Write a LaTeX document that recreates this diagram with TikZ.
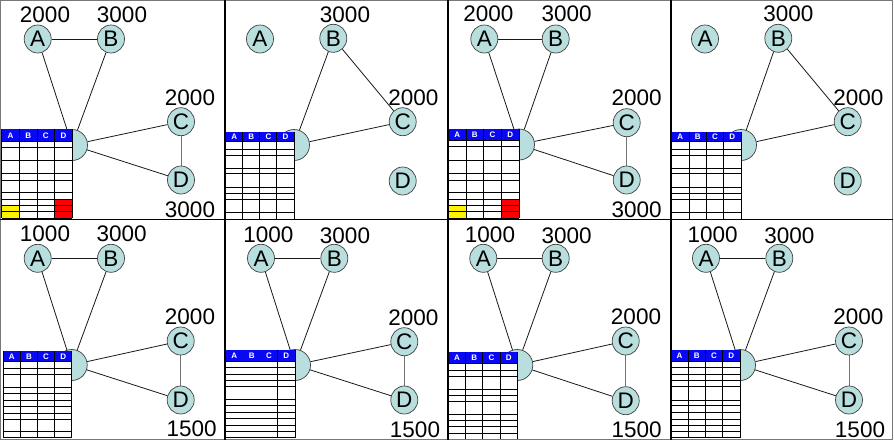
\documentclass[tikz,border=0pt]{standalone}
\usepackage{fontspec}
\setmainfont{Liberation Sans}
\usetikzlibrary{shapes.geometric}
\definecolor{nodefill}{RGB}{184,222,222}
\definecolor{hdrblue}{RGB}{8,8,245}
\definecolor{framegray}{RGB}{120,120,120}
\pgfdeclarelayer{background}
\pgfdeclarelayer{canvas}
\pgfsetlayers{canvas,background,main}
\tikzset{
  vtx/.style={ellipse, draw=black!75, line width=0.7pt, fill=nodefill, minimum width=27pt, minimum height=28pt, inner sep=0pt, font=\fontsize{22.5}{22.5}\selectfont},
  hub/.style={circle, draw=black!75, line width=0.7pt, fill=nodefill, minimum size=31pt, inner sep=0pt},
  lbl/.style={inner sep=0pt, font=\fontsize{22.5}{22.5}\selectfont},
  edge/.style={draw=black!90, line width=0.8pt},
  edgeg/.style={draw=black!55, line width=1pt},
  grid/.style={draw=black, line width=0.9pt},
  hdrtxt/.style={inner sep=0pt, text=white, font=\fontsize{8}{8}\selectfont\bfseries},
  sep/.style={draw=black, line width=1.3pt},
}
\newcommand\vtxs[9]{%
  \node[vtx] (#1A) at (#2,#3) {A};
  \node[vtx] (#1B) at (#4,#5) {B};
  \node[vtx] (#1C) at (#6,#7) {C};
  \node[vtx] (#1D) at (#8,#9) {D};
}
% #1 name, #2 x0, #3 x4, #4 htop, #5 hbot, #6 rows, #7 bottom, #8 inner cols, #9 coloured cells
\newcommand\tbl[9]{%
  \fill[white] (#2,#4) rectangle (#3,#7);
  #9
  \fill[hdrblue] (#2,#4) rectangle (#3,#5);
  \foreach \yy in {#6} \draw[grid] (#2,\yy) -- (#3,\yy);
  \foreach \cc in {#8} \draw[grid] ({#2+\cc*(#3-#2)/4},#4) -- ({#2+\cc*(#3-#2)/4},#7);
  \draw[grid] (#2,#4) -- (#2,#7) (#3,#4) -- (#3,#7);
  \foreach \i/\L in {0/A,1/B,2/C,3/D}
    \node[hdrtxt] (#1\L) at ({#2+(\i+0.5)*(#3-#2)/4},{(#4+#5)/2}) {\L};
}
\begin{document}
\begin{tikzpicture}[x=1pt,y=-1pt]
\useasboundingbox (0,0) rectangle (894,445);
\begin{pgfonlayer}{canvas}
\fill[white] (0,0) rectangle (894,445);
\end{pgfonlayer}

% ---------- Panel 1 ----------
\vtxs{pa}{37.7}{39}{111}{39}{181}{121.7}{181}{180}
\node[hub] (pah) at (72,145) {};
\node[lbl] (paLA) at (45,15) {2000};
\node[lbl] (paLB) at (122,15) {3000};
\node[lbl] (paLC) at (190,98) {2000};
\node[lbl] (paLD) at (190,210) {3000};
\begin{pgfonlayer}{background}
\draw[edge] (paA) -- (paB);
\draw[edge] (paA) -- (pah);
\draw[edge] (paB) -- (pah);
\draw[edge] (pah) -- (paC);
\draw[edge] (pah) -- (paD);
\draw[edgeg] (paC) -- (paD);
\end{pgfonlayer}
\tbl{pat}{1.7}{72.3}{129.3}{141.7}{141.7,147.3,160.7,173.3,180,192.7,199.3,205.7,211.7,218.3}{218.3}{1,2,3}
  {\fill[yellow] (1.7,205.7) rectangle (19.3,218.3); \fill[red] (54.7,199.3) rectangle (72.3,218.3);}

% ---------- Panel 2 ----------
\vtxs{pb}{260}{39}{333.3}{38.3}{402.7}{121.7}{402.7}{181}
\node[hub] (pbh) at (294,145) {};
\node[lbl] (pbLB) at (345,15) {3000};
\node[lbl] (pbLC) at (413.3,97.7) {2000};
\begin{pgfonlayer}{background}
\draw[edge] (pbB) -- (pbh);
\draw[edge] (pbB) -- (pbC);
\draw[edge] (pbh) -- (pbC);
\end{pgfonlayer}
\tbl{pbt}{225.7}{294}{131.7}{141.7}{141.7,149,155.7,168.3,173.3,187.3,193.3,199.3,212.3,219}{219}{1,2,3}{}

% ---------- Panel 3 ----------
\vtxs{pc}{484.3}{39}{555.7}{39}{626.7}{122.7}{626.7}{180}
\node[hub] (pch) at (519,144.5) {};
\node[lbl] (pcLA) at (488.3,13.3) {2000};
\node[lbl] (pcLB) at (566.7,14) {3000};
\node[lbl] (pcLC) at (636.7,97.7) {2000};
\node[lbl] (pcLD) at (636.7,210) {3000};
\begin{pgfonlayer}{background}
\draw[edge] (pcA) -- (pcB);
\draw[edge] (pcA) -- (pch);
\draw[edge] (pcB) -- (pch);
\draw[edge] (pch) -- (pcC);
\draw[edge] (pch) -- (pcD);
\draw[edgeg] (pcC) -- (pcD);
\end{pgfonlayer}
\tbl{pct}{448.3}{519}{129.3}{140.7}{140.7,146.7,160.7,173.3,180,192.7,199.3,205.7,211.7,218.3}{218.3}{1,2,3}
  {\fill[yellow] (448.3,205.7) rectangle (466,218.3); \fill[red] (501.7,199.3) rectangle (519,218.3);}

% ---------- Panel 4 ----------
\vtxs{pd}{705}{39}{778.3}{38.3}{847.7}{121.7}{847.7}{181}
\node[hub] (pdh) at (741,145) {};
\node[lbl] (pdLB) at (788.3,14) {3000};
\node[lbl] (pdLC) at (858.3,97.7) {2000};
\begin{pgfonlayer}{background}
\draw[edge] (pdB) -- (pdh);
\draw[edge] (pdB) -- (pdC);
\draw[edge] (pdh) -- (pdC);
\end{pgfonlayer}
\tbl{pdt}{671.7}{741}{131.7}{141.7}{141.7,149,155.7,168.3,173.3,187.3,193.3,199.3,212.3,219}{219}{1,2,3}{}

% ---------- Panel 5 ----------
\vtxs{pe}{37.7}{258.3}{111}{258.3}{180.7}{341}{180.7}{400}
\node[hub] (peh) at (71.7,365) {};
\node[lbl] (peLA) at (45,233.3) {1000};
\node[lbl] (peLB) at (121.7,234) {3000};
\node[lbl] (peLC) at (190,316.7) {2000};
\node[lbl] (peLD) at (191.7,429) {1500};
\begin{pgfonlayer}{background}
\draw[edge] (peA) -- (peB);
\draw[edge] (peA) -- (peh);
\draw[edge] (peB) -- (peh);
\draw[edge] (peh) -- (peC);
\draw[edge] (peh) -- (peD);
\draw[edgeg] (peC) -- (peD);
\end{pgfonlayer}
\tbl{pet}{3.3}{71.7}{351}{361.7}{361.7,368.3,374,387.3,393.3,400,406.7,413.3,419,431.7,437.7}{437.7}{1,2,3}{}

% ---------- Panel 6 ----------
\vtxs{pf}{261}{258.3}{334.3}{258.3}{404.3}{341.7}{404.3}{400}
\node[hub] (pfh) at (295,365) {};
\node[lbl] (pfLA) at (268.3,235) {1000};
\node[lbl] (pfLB) at (345,235.7) {3000};
\node[lbl] (pfLC) at (413.3,317.7) {2000};
\node[lbl] (pfLD) at (415,430) {1500};
\begin{pgfonlayer}{background}
\draw[edge] (pfA) -- (pfB);
\draw[edge] (pfA) -- (pfh);
\draw[edge] (pfB) -- (pfh);
\draw[edge] (pfh) -- (pfC);
\draw[edge] (pfh) -- (pfD);
\draw[edgeg] (pfC) -- (pfD);
\end{pgfonlayer}
\tbl{pft}{225.7}{295}{350}{361}{361,367.7,374.3,380,386,399.3,405.7,412.3,418.3,425,431,437.7}{437.7}{3}{}

% ---------- Panel 7 ----------
\vtxs{pg}{483.3}{258.3}{555.7}{258.3}{625.7}{341}{625.7}{400.7}
\node[hub] (pgh) at (517.3,365) {};
\node[lbl] (pgLA) at (490,235) {1000};
\node[lbl] (pgLB) at (566.7,235.7) {3000};
\node[lbl] (pgLC) at (636,316.7) {2000};
\node[lbl] (pgLD) at (636.7,430) {1500};
\begin{pgfonlayer}{background}
\draw[edge] (pgA) -- (pgB);
\draw[edge] (pgA) -- (pgh);
\draw[edge] (pgB) -- (pgh);
\draw[edge] (pgh) -- (pgC);
\draw[edge] (pgh) -- (pgD);
\draw[edgeg] (pgC) -- (pgD);
\end{pgfonlayer}
\tbl{pgt}{448.3}{517.3}{352.3}{363.3}{363.3,370,376.7,389,395.7,401.7,414.3,420,426.7,433.3,439}{439}{1,2,3}{}

% ---------- Panel 8 ----------
\vtxs{ph}{706}{258.3}{779.3}{258.3}{849}{341}{849}{400}
\node[hub] (phh) at (740,365) {};
\node[lbl] (phLA) at (712.7,235) {1000};
\node[lbl] (phLB) at (789.3,235.7) {3000};
\node[lbl] (phLC) at (858.3,316.7) {2000};
\node[lbl] (phLD) at (860,430) {1500};
\begin{pgfonlayer}{background}
\draw[edge] (phA) -- (phB);
\draw[edge] (phA) -- (phh);
\draw[edge] (phB) -- (phh);
\draw[edge] (phh) -- (phC);
\draw[edge] (phh) -- (phD);
\draw[edgeg] (phC) -- (phD);
\end{pgfonlayer}
\tbl{pht}{671}{740}{350}{361}{361,367.7,374.3,380.7,386.7,400,405.7,412.3,419,425,431.7,437.7}{437.7}{1,2,3}{}

% ---------- frames ----------
\draw[framegray, line width=1pt] (0.8,0.8) rectangle (892.5,439.3);
\draw[sep] (0,219.5) -- (893,219.5);
\draw[sep] (225,0) -- (225,440);
\draw[sep] (448,0) -- (448,440);
\draw[sep] (671,0) -- (671,440);
\end{tikzpicture}
\end{document}
